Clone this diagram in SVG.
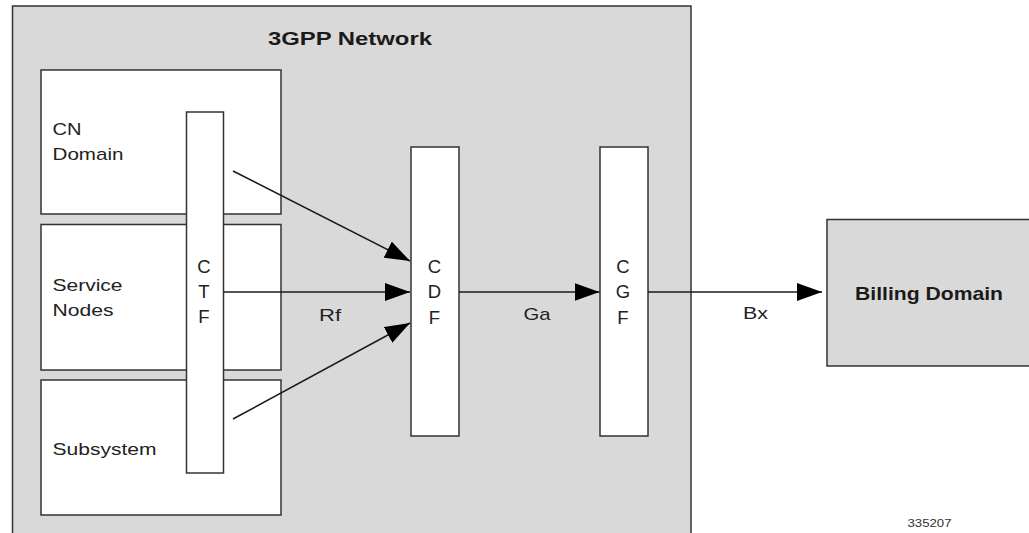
<svg xmlns="http://www.w3.org/2000/svg" width="1029" height="533" viewBox="0 0 1029 533">
<defs>
<style>
.box{fill:#ffffff;stroke:#333333;stroke-width:1.5}
.gray{fill:#d9d9d9;stroke:#333333;stroke-width:1.5}
.t{font-family:"Liberation Sans",Arial,sans-serif;font-size:17px;fill:#222222}
.l{font-family:"Liberation Sans",Arial,sans-serif;font-size:18.5px;fill:#222222;text-anchor:middle}
.b{font-family:"Liberation Sans",Arial,sans-serif;font-size:19px;font-weight:bold;fill:#1a1a1a}
.line{stroke:#1a1a1a;stroke-width:1.5;fill:none;marker-end:url(#ah)}
</style>
<marker id="ah" viewBox="0 0 25 18" refX="25" refY="9" markerWidth="25" markerHeight="18" markerUnits="userSpaceOnUse" orient="auto">
<path d="M0,0 L25,9 L0,18 Z" fill="#000000"/>
</marker>
</defs>
<rect width="1029" height="533" fill="#ffffff"/>
<g id="network">
<rect class="gray" x="12.5" y="6" width="678.5" height="540"/>
<text class="b" x="268" y="45" textLength="164" lengthAdjust="spacingAndGlyphs">3GPP Network</text>
</g>
<g id="cn-domain">
<rect class="box" x="41" y="70" width="240" height="144"/>
<text class="t" x="52.5" y="135" textLength="29" lengthAdjust="spacingAndGlyphs">CN</text>
<text class="t" x="52.5" y="160" textLength="71" lengthAdjust="spacingAndGlyphs">Domain</text>
</g>
<g id="service-nodes">
<rect class="box" x="41" y="224.5" width="240" height="145.5"/>
<text class="t" x="52.5" y="290.5" textLength="70" lengthAdjust="spacingAndGlyphs">Service</text>
<text class="t" x="52.5" y="316" textLength="61" lengthAdjust="spacingAndGlyphs">Nodes</text>
</g>
<g id="subsystem">
<rect class="box" x="41" y="380" width="240" height="135"/>
<text class="t" x="52.5" y="454.5" textLength="104" lengthAdjust="spacingAndGlyphs">Subsystem</text>
</g>
<g id="ctf">
<rect class="box" x="186.5" y="112" width="37" height="361"/>
<text class="l" x="204" y="272.5">C</text>
<text class="l" x="204" y="297.5">T</text>
<text class="l" x="204" y="323">F</text>
</g>
<g id="cdf">
<rect class="box" x="411" y="147" width="48" height="289"/>
<text class="l" x="434.5" y="272.5">C</text>
<text class="l" x="434.5" y="298">D</text>
<text class="l" x="434.5" y="324">F</text>
</g>
<g id="cgf">
<rect class="box" x="600" y="147" width="48" height="289"/>
<text class="l" x="623" y="272.5">C</text>
<text class="l" x="623" y="298">G</text>
<text class="l" x="623" y="324">F</text>
</g>
<g id="billing">
<rect class="gray" x="827" y="219.5" width="215" height="146.5"/>
<text class="b" x="855" y="300" textLength="148" lengthAdjust="spacingAndGlyphs">Billing Domain</text>
</g>
<g id="connectors">
<line class="line" x1="233" y1="171" x2="410" y2="261"/>
<line class="line" x1="223.5" y1="292" x2="410" y2="292"/>
<line class="line" x1="233" y1="419" x2="410" y2="323"/>
<line class="line" x1="459" y1="292" x2="599.5" y2="292"/>
<line class="line" x1="648" y1="292" x2="822" y2="292"/>
<text class="t" x="319" y="320.5" textLength="22" lengthAdjust="spacingAndGlyphs">Rf</text>
<text class="t" x="523.5" y="319.5" textLength="27" lengthAdjust="spacingAndGlyphs">Ga</text>
<text class="t" x="743" y="319" textLength="25" lengthAdjust="spacingAndGlyphs">Bx</text>
</g>
<text x="907.5" y="527" font-family="Liberation Sans, Arial, sans-serif" font-size="11" fill="#333333" textLength="44" lengthAdjust="spacingAndGlyphs">335207</text>
</svg>
